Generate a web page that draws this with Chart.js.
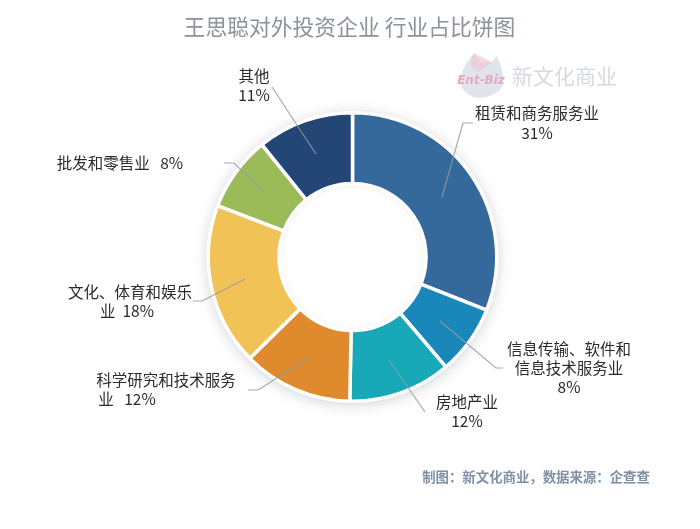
<!DOCTYPE html>
<html><head><meta charset="utf-8">
<style>html,body{margin:0;padding:0;background:#fff}canvas{display:block}#w{position:relative;width:700px;height:529px}</style>
<script src="https://cdn.jsdelivr.net/npm/chart.js@4"></script>
</head><body><div id="w"><canvas id="c" width="700" height="529"></canvas></div>
<script>
const categories = ["租赁和商务服务业","信息传输、软件和信息技术服务业","房地产业","科学研究和技术服务业","文化、体育和娱乐业","批发和零售业","其他"];
const shares = [31.0, 7.8, 11.5, 12.3, 18.2, 8.4, 10.8];
const shareLabels = ["31%","8%","12%","12%","18%","8%","11%"];
const colors = ["#35689b","#1a87bb","#17a9b8","#df8b2d","#f1c357","#9bbb59","#234677"];
const titleText = "王思聪对外投资企业 行业占比饼图";
const footerText = "制图：新文化商业，数据来源：企查查";
const FONT = '"Noto Sans CJK SC","Noto Sans",sans-serif';

const labelLayout = [
  {lines:[["租赁和商务服务业",537,113],["31%",537,133]], elbow:[[463,123],[473,123]], inner:[442,197]},
  {lines:[["信息传输、软件和",569,349],["信息技术服务业",569,368],["8%",569,387]], elbow:[[496,368],[503,368]], inner:[440,321]},
  {lines:[["房地产业",467,402],["12%",467,421]], elbow:[[425,412]], inner:[389,360]},
  {lines:[["科学研究和技术服务",166,380],["业   12%",127,399]], elbow:[[258,390],[248,390]], inner:[310,357]},
  {lines:[["文化、体育和娱乐",130,292],["业  18%",127,311]], elbow:[[202,301],[193,301]], inner:[245,279]},
  {lines:[["批发和零售业   8%",120,163]], elbow:[[234,163],[224,163]], inner:[263,191]},
  {lines:[["其他",254,76],["11%",254,95]], elbow:[[272,87]], inner:[316,154]}
];

const decorations = {
  id:"decorations",
  beforeDatasetsDraw(chart){
    const ctx = chart.ctx, arc = chart.getDatasetMeta(0).data[0];
    const {x,y,outerRadius:R} = arc;
    ctx.save();
    ctx.shadowColor = "rgba(90,100,115,0.3)";
    ctx.shadowBlur = 14;
    ctx.shadowOffsetY = 2;
    ctx.fillStyle = "#fff";
    ctx.beginPath(); ctx.arc(x,y,R+1,0,Math.PI*2); ctx.fill();
    ctx.restore();
    ctx.save();
    ctx.fillStyle = "#e2e4ec";
    ctx.beginPath();
    ctx.moveTo(474,53); ctx.lineTo(481,62); ctx.lineTo(491,62); ctx.lineTo(497,56);
    ctx.quadraticCurveTo(508,80,500,90); ctx.quadraticCurveTo(480,105,465,92);
    ctx.quadraticCurveTo(453,78,474,53); ctx.fill();
    ctx.fillStyle = "rgba(240,195,210,0.6)";
    ctx.beginPath(); ctx.moveTo(474,53); ctx.quadraticCurveTo(466,68,480,72); ctx.lineTo(492,62); ctx.closePath(); ctx.fill();
    ctx.fillStyle = "#e3a9c0"; ctx.font = 'italic bold 12px "DejaVu Sans"'; ctx.textAlign="center"; ctx.textBaseline="middle";
    ctx.fillText("Ent-Biz",481,81);
    ctx.fillStyle = "#d6d9df"; ctx.font = "21px "+FONT; ctx.textAlign="left";
    ctx.fillText("新文化商业",512,76);
    ctx.restore();
  },
  afterDatasetsDraw(chart){
    const ctx = chart.ctx, arc = chart.getDatasetMeta(0).data[0];
    ctx.save();
    // soft shadow inside the hole
    ctx.beginPath(); ctx.arc(arc.x,arc.y,arc.innerRadius-1.5,0,Math.PI*2); ctx.clip();
    ctx.shadowColor="rgba(90,100,115,0.18)"; ctx.shadowBlur=7;
    ctx.strokeStyle="#fff"; ctx.lineWidth=3;
    ctx.beginPath(); ctx.arc(arc.x,arc.y,arc.innerRadius+1,0,Math.PI*2); ctx.stroke();
    ctx.restore();
    ctx.save();
    ctx.textBaseline="middle"; ctx.textAlign="center";
    ctx.fillStyle="#8a929c"; ctx.font="21.8px "+FONT;
    ctx.fillText(titleText,349.5,27);
    ctx.fillStyle="#7f90a5"; ctx.font="bold 13.4px "+FONT;
    ctx.fillText(footerText,536,477);
    labelLayout.forEach(l=>{
      ctx.strokeStyle="rgba(150,155,160,0.85)"; ctx.lineWidth=1.2;
      ctx.beginPath(); ctx.moveTo(l.inner[0],l.inner[1]);
      l.elbow.forEach(p=>ctx.lineTo(p[0],p[1]));
      ctx.stroke();
      ctx.fillStyle="#2b2b2b"; ctx.font="15.5px "+FONT;
      l.lines.forEach(t=>ctx.fillText(t[0],t[1],t[2]));
    });
    ctx.restore();
  }
};

new Chart(document.getElementById("c"),{
  type:"doughnut",
  data:{labels:categories,datasets:[{data:shares,backgroundColor:colors,borderColor:"#ffffff",borderWidth:3.5,hoverOffset:0}]},
  options:{
    responsive:false,animation:false,cutout:"51%",
    layout:{padding:{left:206,right:201,top:111,bottom:126}},
    plugins:{legend:{display:false},tooltip:{enabled:false}}
  },
  plugins:[decorations]
});
</script></body></html>
